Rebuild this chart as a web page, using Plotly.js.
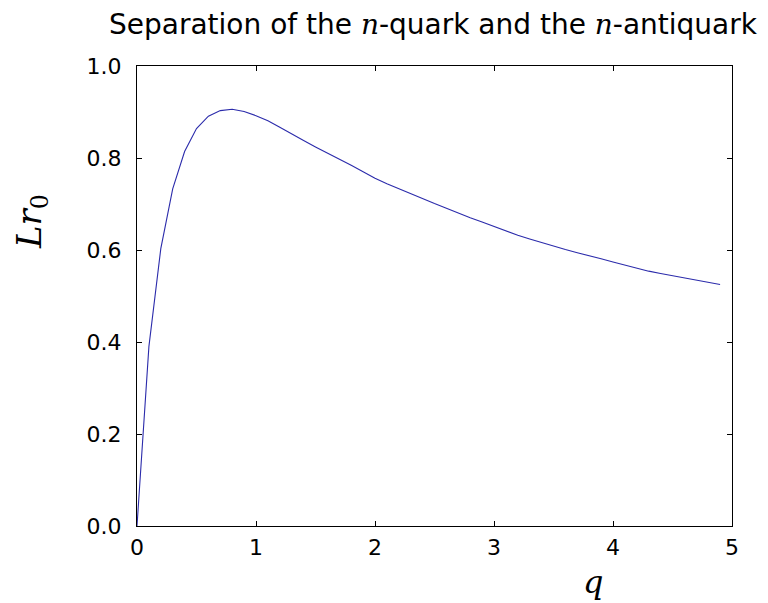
<!DOCTYPE html>
<html>
<head>
<meta charset="utf-8">
<script src="https://cdn.plot.ly/plotly-3.0.1.min.js"></script>
<style>html,body{margin:0;padding:0;background:#fff;}#chart{width:768px;height:603px;}</style>
</head>
<body>
<div id="chart"></div>
<script>
const qValues = [0.0,0.1,0.2,0.3,0.4,0.5,0.6,0.7,0.8,0.9,
  1.0,1.1,1.2,1.3,1.4,1.5,1.6,1.7,1.8,1.9,
  2.0,2.1,2.2,2.3,2.4,2.5,2.6,2.7,2.8,2.9,
  3.0,3.1,3.2,3.3,3.4,3.5,3.6,3.7,3.8,3.9,
  4.0,4.1,4.2,4.3,4.4,4.5,4.6,4.7,4.8,4.9];
const separation = [0.000,0.390,0.603,0.733,0.814,0.864,0.891,0.903,0.906,0.901,
  0.892,0.881,0.867,0.852,0.838,0.824,0.811,0.797,0.784,0.770,
  0.756,0.744,0.733,0.722,0.711,0.701,0.691,0.680,0.670,0.661,
  0.651,0.641,0.632,0.624,0.616,0.609,0.601,0.594,0.588,0.581,
  0.574,0.567,0.561,0.554,0.549,0.544,0.539,0.534,0.529,0.525];
const xTicks = [0,1,2,3,4,5];
const xTickText = ["0","1","2","3","4","5"];
const yTicks = [0,0.2,0.4,0.6,0.8,1.0];
const yTickText = ["0.0","0.2","0.4","0.6","0.8","1.0"];
const titleText = 'Separation of the <span style="font-family:DejaVu Serif"><i>n</i></span>-quark and the <span style="font-family:DejaVu Serif"><i>n</i></span>-antiquark';
const xLabel = '<i>q</i>';
const yLabel = '<i>Lr</i><sub>0</sub>';

const trace = {
  x: qValues, y: separation, type: 'scatter', mode: 'lines',
  line: {color: '#2b2bab', width: 1.1}, hoverinfo: 'skip'
};
const axisCommon = {
  showgrid: false, zeroline: false, showline: true, linecolor: '#000', linewidth: 1,
  mirror: 'ticks', ticks: 'inside', ticklen: 5, tickwidth: 1, tickcolor: '#000',
  tickfont: {family: 'DejaVu Sans', size: 22, color: '#000'}
};
const layout = {
  width: 768, height: 603,
  paper_bgcolor: '#fff', plot_bgcolor: '#fff',
  margin: {l: 137, r: 36, t: 66, b: 77},
  showlegend: false,
  title: {
    text: titleText,
    font: {family: 'DejaVu Sans', size: 28, color: '#000'},
    x: (433 - 137) / 595, xanchor: 'center', xref: 'paper', y: 1 - 24 / 603, yanchor: 'middle', yref: 'container'
  },
  xaxis: Object.assign({}, axisCommon, {
    range: [0, 5], tickvals: xTicks, ticktext: xTickText, ticklabelstandoff: 2
  }),
  yaxis: Object.assign({}, axisCommon, {
    range: [0, 1], tickvals: yTicks, ticktext: yTickText, ticklabelstandoff: 10
  }),
  annotations: [
    {text: xLabel, xref: 'paper', yref: 'paper', x: (593 - 137) / 595, y: (526 - 582) / 460,
     xanchor: 'center', yanchor: 'middle', showarrow: false,
     font: {family: 'DejaVu Serif', size: 32, color: '#000'}},
    {text: yLabel, xref: 'paper', yref: 'paper', x: (31 - 137) / 595, y: (526 - 222) / 460,
     xanchor: 'center', yanchor: 'middle', showarrow: false, textangle: -90,
     font: {family: 'DejaVu Serif', size: 34, color: '#000'}}
  ]
};
Plotly.newPlot('chart', [trace], layout, {staticPlot: true, displayModeBar: false});
</script>
</body>
</html>
